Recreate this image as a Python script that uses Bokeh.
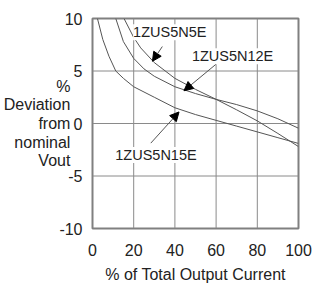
from bokeh.plotting import figure
from bokeh.models import Range1d, Label, Arrow, NormalHead, FixedTicker, PrintfTickFormatter
from bokeh.embed import file_html
from bokeh.resources import INLINE

FONT = "Liberation Sans"

# Data
x_n15 = [2.4, 5, 8, 11.3, 15, 20, 30, 40, 50, 60, 70, 80, 90, 100]
y_n15 = [10, 8.0, 6.4, 5.0, 4.3, 3.5, 2.5, 1.5, 0.85, 0.3, -0.25, -0.8, -1.35, -1.9]

x_n12 = [11.3, 15, 20, 25, 30, 40, 50, 60, 70, 80, 90, 100]
y_n12 = [10, 7.8, 6.2, 5.2, 4.5, 3.5, 2.85, 2.3, 1.8, 1.2, 0.45, -0.45]

x_n5 = [15.3, 20, 23.4, 30, 40, 50, 60, 70, 80, 90, 100]
y_n5 = [10, 8.2, 7.2, 5.8, 4.3, 3.25, 2.3, 1.3, 0.25, -0.95, -2.2]

x_ticks = [0, 20, 40, 60, 80, 100]
y_ticks = [-10, -5, 0, 5, 10]
x_grid = [20, 40, 60, 80]
y_grid = [-5, 0, 5]
x_lim = (0, 100)
y_lim = (-10, 10)

x_title = "% of Total Output Current"
y_title = "%\nDeviation\nfrom\nnominal\nVout"

labels = ["1ZUS5N5E", "1ZUS5N12E", "1ZUS5N15E"]
label_pos = [(37.5, 8.7), (68.0, 6.4), (30.8, -3.0)]
arrow_start = [(33.9, 7.33), (59.8, 5.62), (28.3, -1.87)]
arrow_end = [(29.1, 5.93), (44.4, 3.12), (42.0, 1.10)]

p = figure(width=312, height=285, output_backend="svg", toolbar_location=None,
           x_range=Range1d(*x_lim), y_range=Range1d(*y_lim),
           min_border_left=92, min_border_right=14, min_border_top=18, min_border_bottom=53)
p.background_fill_color = "white"
p.outline_line_color = "#808080"
p.outline_line_width = 2

for ax in (p.xaxis[0], p.yaxis[0]):
    ax.axis_line_color = "#808080"
    ax.axis_line_width = 1
    ax.major_tick_line_color = None
    ax.minor_tick_line_color = None
    ax.major_label_text_font = FONT
    ax.major_label_text_font_size = "16px"
    ax.major_label_text_color = "#222222"
    ax.axis_label_text_font = FONT
    ax.axis_label_text_font_size = "16px"
    ax.axis_label_text_font_style = "normal"
    ax.axis_label_text_color = "#222222"
    ax.formatter = PrintfTickFormatter(format="%d")

p.xaxis.ticker = FixedTicker(ticks=x_ticks)
p.yaxis.ticker = FixedTicker(ticks=y_ticks)
p.xaxis.major_label_standoff = 9
p.yaxis.major_label_standoff = 4
p.xaxis.axis_label = x_title
p.xaxis.axis_label_standoff = 7

p.yaxis.axis_label = y_title
p.yaxis.axis_label_orientation = "horizontal"
p.yaxis.axis_label_text_align = "left"
p.yaxis.axis_label_text_line_height = 1.1
p.yaxis.axis_label_standoff = -14

p.xgrid.visible = False
p.ygrid.visible = False
p.segment(x0=x_grid, y0=[y_lim[0]] * len(x_grid), x1=x_grid, y1=[y_lim[1]] * len(x_grid),
          line_color="#8a8a8a", line_width=1)
p.segment(x0=[x_lim[0]] * len(y_grid), y0=y_grid, x1=[x_lim[1]] * len(y_grid), y1=y_grid,
          line_color="#8a8a8a", line_width=1)

for xs, ys in ((x_n15, y_n15), (x_n12, y_n12), (x_n5, y_n5)):
    p.line(xs, ys, line_color="#555555", line_width=1)

for txt, (lx, ly) in zip(labels, label_pos):
    p.add_layout(Label(x=lx, y=ly, text=txt, text_align="center", text_baseline="middle",
                       text_font=FONT, text_font_size="14.5px", text_color="#222222",
                       background_fill_color="white"))

for (sx, sy), (ex, ey) in zip(arrow_start, arrow_end):
    p.add_layout(Arrow(x_start=sx, y_start=sy, x_end=ex, y_end=ey,
                       line_color="#555555", line_width=1,
                       end=NormalHead(size=9, fill_color="black", line_color="black")))

open("out.html", "w").write(file_html(p, INLINE))
